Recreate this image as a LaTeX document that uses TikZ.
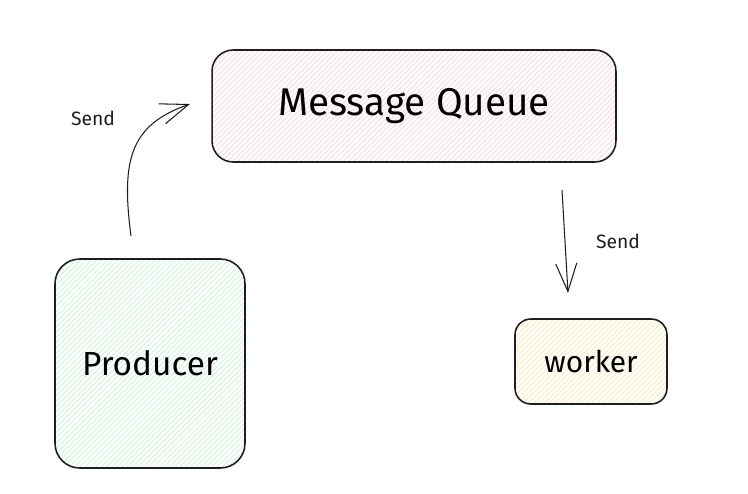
\documentclass[tikz,border=0pt]{standalone}
\usepackage{fontspec}
\setmainfont{Fira Sans}
\usetikzlibrary{arrows.meta,patterns}

\definecolor{inkgray}{HTML}{1E1E1E}
\definecolor{mqpink}{HTML}{FAD0DA}
\definecolor{prodgreen}{HTML}{C4F0D0}
\definecolor{workyellow}{HTML}{F8E7AE}

\tikzset{
  box/.style={draw=inkgray, line width=0.9pt, rounded corners=#1, inner sep=0pt},
  flow/.style={draw=inkgray, line width=0.6pt, -{Straight Barb[length=16pt,width=12pt,line width=0.6pt]}},
  sendlabel/.style={font=\fontsize{11}{13}\selectfont, text=inkgray},
}

\begin{document}
\begin{tikzpicture}[x=0.02cm, y=-0.02cm]
  \useasboundingbox (0,0) rectangle (748,494);

  % Boxes
  \node[box=12pt, pattern=north east lines, pattern color=mqpink,
        minimum width=8.08cm, minimum height=2.24cm,
        font=\fontsize{22}{26}\selectfont] (queue) at (414,106) {Message Queue};
  \node[box=14pt, pattern=north east lines, pattern color=prodgreen,
        minimum width=3.8cm, minimum height=4.18cm,
        font=\fontsize{19}{23}\selectfont] (producer) at (150,363.5) {Producer};
  \node[box=9pt, pattern=north east lines, pattern color=workyellow,
        minimum width=3.04cm, minimum height=1.7cm,
        font=\fontsize{17}{21}\selectfont] (worker) at (591,361.5) {worker};

  % Arrows
  \coordinate (p-out) at (131,236);
  \coordinate (q-in) at (190,104);
  \coordinate (q-out) at (562,190);
  \coordinate (w-in) at (568,293);

  \draw[flow] (p-out) .. controls (121,160) and (130,125) .. (q-in);
  \draw[flow] (q-out) -- (w-in);

  % Labels
  \node[sendlabel] (send1) at (93,118) {Send};
  \node[sendlabel] (send2) at (618,241) {Send};
\end{tikzpicture}
\end{document}
